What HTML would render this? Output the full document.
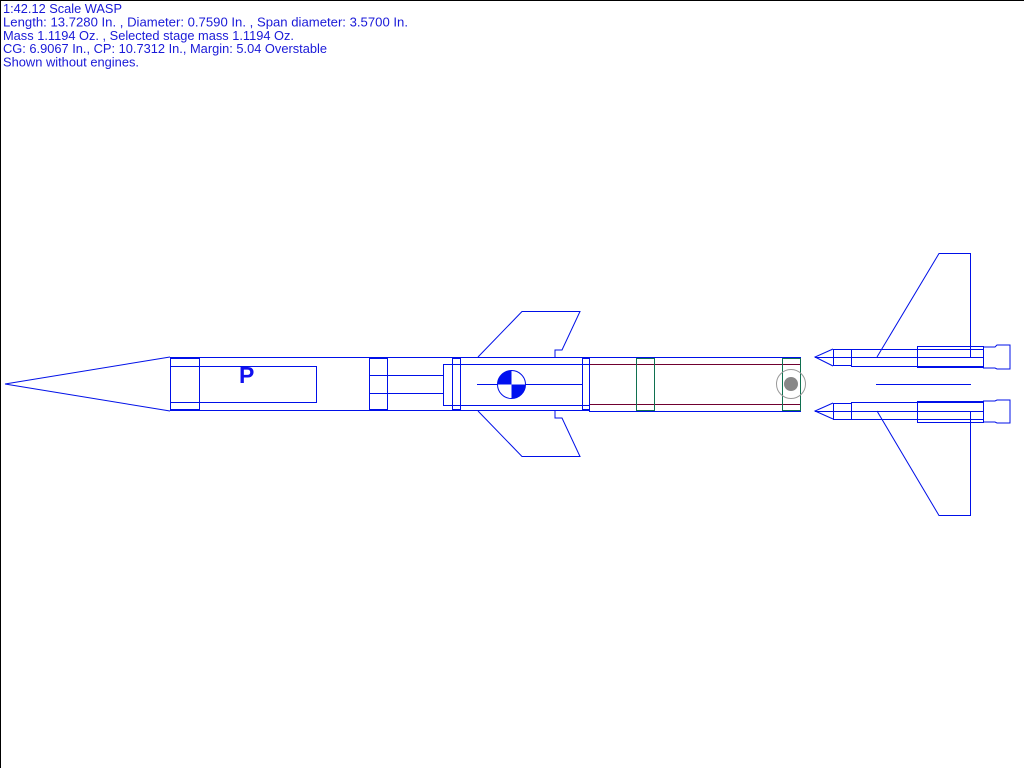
<!DOCTYPE html>
<html><head><meta charset="utf-8"><style>
html,body{margin:0;padding:0;background:#fff;width:1024px;height:768px;overflow:hidden}
svg{display:block}
text{font-family:"Liberation Sans",sans-serif;font-size:13px;fill:#1a1ad8}
</style></head><body>
<svg width="1024" height="768" viewBox="0 0 1024 768" xmlns="http://www.w3.org/2000/svg">
<line x1="0.5" y1="0" x2="0.5" y2="768" stroke="#000"/>
<line x1="0" y1="0.5" x2="1024" y2="0.5" stroke="#000"/>
<text x="3" y="13" textLength="119" lengthAdjust="spacingAndGlyphs">1:42.12 Scale WASP</text>
<text x="3" y="26.5" textLength="405" lengthAdjust="spacingAndGlyphs">Length: 13.7280 In. , Diameter: 0.7590 In. , Span diameter: 3.5700 In.</text>
<text x="3" y="40" textLength="291" lengthAdjust="spacingAndGlyphs">Mass 1.1194 Oz. , Selected stage mass 1.1194 Oz.</text>
<text x="3" y="53" textLength="324" lengthAdjust="spacingAndGlyphs">CG: 6.9067 In., CP: 10.7312 In., Margin: 5.04 Overstable</text>
<text x="3" y="66.5" textLength="136" lengthAdjust="spacingAndGlyphs">Shown without engines.</text>
<g fill="none" stroke="#0010e8" stroke-width="1">
<polyline points="170,357 5,384 170,411"/>
<rect x="170.5" y="357.5" width="419" height="53"/>
<rect x="170.5" y="358.5" width="29" height="51"/>
<rect x="170.5" y="366.5" width="146" height="36"/>
<rect x="369.5" y="358.5" width="18" height="51"/>
<line x1="369" y1="375.5" x2="443" y2="375.5"/>
<line x1="369" y1="393.5" x2="443" y2="393.5"/>
<rect x="443.5" y="364.5" width="146" height="41"/>
<rect x="452.5" y="358.5" width="8" height="51"/>
<line x1="477" y1="384.5" x2="582" y2="384.5"/>
<rect x="582.5" y="358.5" width="7" height="51"/>
<polyline points="478,357 522,311.5 580,311.5 562,350 555,350 555,357"/>
<polyline points="478,411 522,456.5 580,456.5 562,418 555,418 555,411"/>
<line x1="589" y1="357.5" x2="801" y2="357.5"/>
<line x1="589" y1="411.5" x2="801" y2="411.5"/>
</g>
<g stroke="#700030" fill="none"><line x1="590" y1="364.5" x2="800" y2="364.5"/><line x1="590" y1="404.5" x2="800" y2="404.5"/></g>
<g stroke="#107050" fill="none"><rect x="636.5" y="358.5" width="18" height="52"/><rect x="782.5" y="358.5" width="18" height="52"/></g>
<circle cx="791" cy="384" r="14.5" fill="none" stroke="#999"/>
<circle cx="791" cy="384" r="7" fill="#888"/>
<g>
<circle cx="511.5" cy="384.5" r="14" fill="#fff" stroke="#0010e8"/>
<path d="M511.5 384.5 L511.5 370.5 A14 14 0 0 0 497.5 384.5 Z" fill="#0010f0"/>
<path d="M511.5 384.5 L511.5 398.5 A14 14 0 0 0 525.5 384.5 Z" fill="#0010f0"/>
</g>
<text x="239" y="383" style="font-size:23px;font-weight:bold;fill:#1010f0">P</text>
<g fill="none" stroke="#0010e8">
<polyline points="877,357 939,253.5 970.5,253.5 970.5,357"/>
<polyline points="877,411 939,515.5 970.5,515.5 970.5,411"/>
<line x1="876" y1="384.5" x2="971" y2="384.5"/>
<polyline points="833,349 815,357 833,366"/>
<rect x="833.5" y="349.5" width="18" height="16"/>
<line x1="851" y1="349.5" x2="983" y2="349.5"/>
<line x1="851" y1="366.5" x2="983" y2="366.5"/>
<line x1="815" y1="357.5" x2="983" y2="357.5"/>
<rect x="917.5" y="346.5" width="66" height="21"/>
<polyline points="983,347 995,347 997,345 1010,345 1010,369 997,369 995,368 983,368"/>
<polyline points="833,403 815,411 833,419"/>
<rect x="833.5" y="403.5" width="18" height="16"/>
<line x1="851" y1="402.5" x2="983" y2="402.5"/>
<line x1="851" y1="419.5" x2="983" y2="419.5"/>
<line x1="815" y1="411.5" x2="983" y2="411.5"/>
<rect x="917.5" y="401.5" width="66" height="21"/>
<polyline points="983,401 995,401 997,400 1010,400 1010,423 997,423 995,422 983,422"/>
</g>
</svg>
</body></html>
